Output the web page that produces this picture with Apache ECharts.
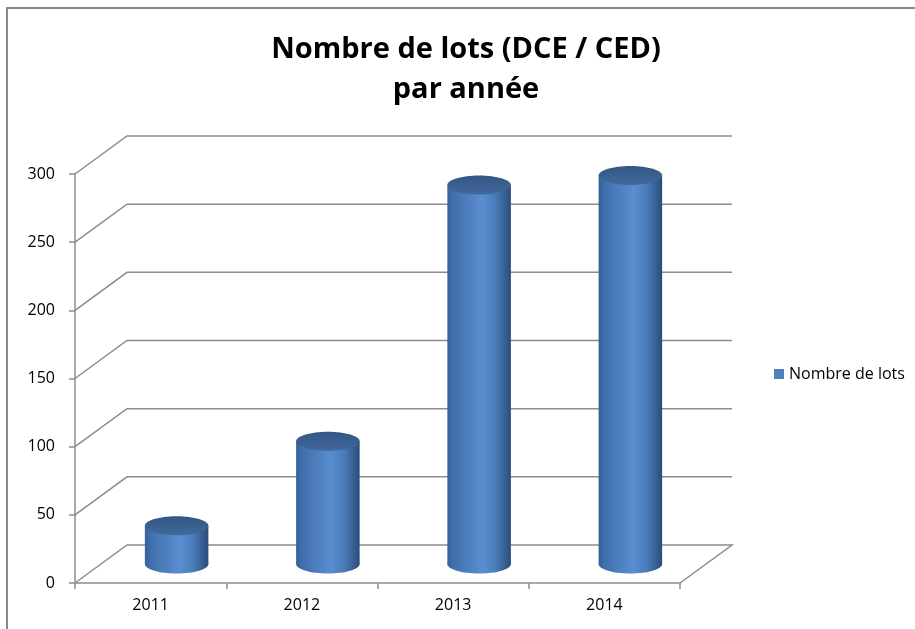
<!DOCTYPE html>
<html>
<head>
<meta charset="utf-8">
<script src="https://cdn.jsdelivr.net/npm/echarts@6/dist/echarts.min.js"></script>
<style>
html, body { margin: 0; padding: 0; background: #fff; overflow: hidden; }
#chart { position: absolute; left: 0; top: 0; width: 915px; height: 629px; }
.frame {
  position: absolute; left: 6px; top: 7px; width: 1000px; height: 1000px;
  border-top: 2px solid #8a8a8a; border-left: 2px solid #8a8a8a;
  pointer-events: none;
}
</style>
</head>
<body>
<div id="chart"></div>
<div class="frame"></div>
<script>
// données
const years = ['2011', '2012', '2013', '2014']
const lots = [28, 90, 278, 285]
const gridValues = [0, 50, 100, 150, 200, 250, 300]

// décalage de profondeur (effet 3D)
const DEPTH_X = 52
const DEPTH_Y = -38
const LINE_GRAY = '#8c8c8c'

const myChart = echarts.init(document.getElementById('chart'))

// murs du fond + plancher
function renderWall(params, api) {
  const v = api.value(1)
  const cs = params.coordSys
  const left = api.coord([0, v])
  const xl = cs.x
  const xr = cs.x + cs.width
  const y = left[1]
  const pts = [
    [xl, y],
    [xl + DEPTH_X, y + DEPTH_Y],
    [xr + DEPTH_X, y + DEPTH_Y]
  ]
  if (v === 0) pts.push([xr, y])
  return {
    type: 'polyline',
    shape: { points: pts },
    style: { stroke: LINE_GRAY, lineWidth: 1.5, fill: null }
  }
}

// cylindres
function renderCylinder(params, api) {
  const idx = api.value(0)
  const v = api.value(1)
  const base = api.coord([idx, 0])
  const top = api.coord([idx, v])
  const band = api.size([1, 0])[0]
  const rx = band * 0.21
  const ry = rx * 0.3
  const cx = base[0] + DEPTH_X / 2
  const yb = base[1] + DEPTH_Y / 2
  const yt = top[1] + DEPTH_Y / 2
  const bodyGrad = new echarts.graphic.LinearGradient(0, 0, 1, 0, [
    { offset: 0, color: '#35609a' },
    { offset: 0.08, color: '#3f6eab' },
    { offset: 0.55, color: '#5a8ed0' },
    { offset: 0.75, color: '#4b7cbb' },
    { offset: 1, color: '#2b4c7a' }
  ])
  const topGrad = new echarts.graphic.LinearGradient(0, 0, 0, 1, [
    { offset: 0, color: '#335784' },
    { offset: 1, color: '#42699c' }
  ])
  return {
    type: 'group',
    children: [
      { type: 'ellipse', shape: { cx: cx, cy: yb, rx: rx, ry: ry }, style: { fill: bodyGrad } },
      { type: 'rect', shape: { x: cx - rx, y: yt, width: rx * 2, height: yb - yt }, style: { fill: bodyGrad } },
      { type: 'ellipse', shape: { cx: cx, cy: yt, rx: rx, ry: ry }, style: { fill: topGrad } }
    ]
  }
}

const option = {
  backgroundColor: '#fff',
  title: {
    text: 'Nombre de lots (DCE / CED)\npar année',
    left: 461,
    top: 25,
    textAlign: 'center',
    textStyle: {
      fontFamily: 'Open Sans',
      fontWeight: 'bold',
      fontSize: 29,
      lineHeight: 40,
      color: '#000'
    }
  },
  legend: {
    data: ['Nombre de lots'],
    left: 769,
    top: 361,
    icon: 'rect',
    itemWidth: 10,
    itemHeight: 10,
    itemGap: 6,
    textStyle: { fontFamily: 'Open Sans', fontSize: 16, color: '#000' }
  },
  grid: {
    left: 75,
    top: 174,
    width: 605,
    bottom: 46
  },
  xAxis: {
    type: 'category',
    data: years,
    boundaryGap: true,
    axisLine: { lineStyle: { color: LINE_GRAY, width: 1.5 } },
    axisTick: { show: true, length: 6, interval: 0, lineStyle: { color: LINE_GRAY, width: 1.5 } },
    axisLabel: { margin: 14, color: '#000', fontFamily: 'Open Sans', fontSize: 16 },
    splitLine: { show: false }
  },
  yAxis: {
    type: 'value',
    min: 0,
    max: 300,
    interval: 50,
    axisLine: { show: true, lineStyle: { color: LINE_GRAY, width: 1.5 } },
    axisTick: { show: true, length: 6, lineStyle: { color: LINE_GRAY, width: 1.5 } },
    axisLabel: { margin: 20, color: '#000', fontFamily: 'Open Sans', fontSize: 16 },
    splitLine: { show: false }
  },
  series: [
    {
      name: 'grille',
      type: 'custom',
      silent: true,
      z: 1,
      renderItem: renderWall,
      data: gridValues.map(v => [0, v])
    },
    {
      name: 'Nombre de lots',
      type: 'custom',
      z: 2,
      itemStyle: { color: '#4f81bd' },
      renderItem: renderCylinder,
      encode: { x: 0, y: 1 },
      data: lots.map((v, i) => [i, v])
    }
  ]
}
myChart.setOption(option)
</script>
</body>
</html>
